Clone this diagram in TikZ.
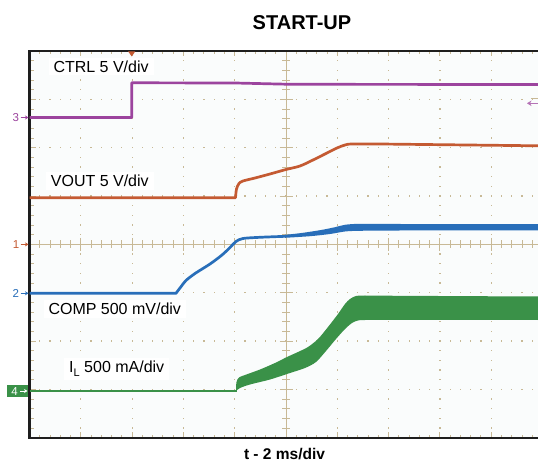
\documentclass[tikz,border=0pt]{standalone}
\usepackage{fontspec}
\setmainfont{Liberation Sans}
\usetikzlibrary{arrows.meta}
\definecolor{purp}{RGB}{156,68,158}
\definecolor{orng}{RGB}{196,90,50}
\definecolor{blu}{RGB}{40,110,185}
\definecolor{grn}{RGB}{58,145,72}
\definecolor{gridc}{RGB}{200,185,150}
\definecolor{framec}{RGB}{30,30,30}
\definecolor{plotbg}{RGB}{250,252,252}
\tikzset{
  framebox/.style={line width=2.3pt, draw=framec},
  tickline/.style={line width=0.9pt, draw=gridc},
  trace/.style={line width=2.7pt, line join=round, line cap=butt},
  lab/.style={fill=white, inner xsep=5pt, inner ysep=3pt, font=\fontsize{16}{18}\selectfont, anchor=base west},
  mk/.style={font=\fontsize{11.5}{12}\selectfont, anchor=base, inner sep=0pt},
  mkarrow/.style={line width=0.9pt, -{Stealth[length=3.5pt,width=4pt]}}
}
\begin{document}
\begin{tikzpicture}[x=1pt,y=-1pt]
\useasboundingbox (0,0) rectangle (538,462);
\fill[white] (0,0) rectangle (538,462);
% plot area
\fill[plotbg] (29.5,51) rectangle (542.5,437.7);
% grid dots
\foreach \i in {1,2,3,4,6,7,8,9}{
  \foreach \k in {1,...,39}{
    \fill[gridc] (29.5+\i*51.3-0.6, 51+\k*9.668-0.6) rectangle ++(1.2,1.2);
  }
}
\foreach \j in {1,2,3,5,6,7}{
  \foreach \k in {1,...,49}{
    \fill[gridc] (29.5+\k*10.26-0.6, 51+\j*48.34-0.6) rectangle ++(1.2,1.2);
  }
}
% centre axes
\draw[tickline] (29.5,244.4) -- (542.5,244.4);
\draw[tickline] (286,51) -- (286,437.7);
\foreach \k in {1,...,49}{
  \pgfmathsetmacro{\len}{ifthenelse(mod(\k,5)==0,6.5,4)}
  \draw[tickline] (29.5+\k*10.26,244.4-\len) -- (29.5+\k*10.26,244.4+\len);
  \draw[tickline] (29.5+\k*10.26,51) -- ++(0,\len-1);
  \draw[tickline] (29.5+\k*10.26,437.7) -- ++(0,-\len+1);
}
\foreach \k in {1,...,39}{
  \pgfmathsetmacro{\len}{ifthenelse(mod(\k,5)==0,6.5,4)}
  \draw[tickline] (286-\len,51+\k*9.668) -- (286+\len,51+\k*9.668);
  \draw[tickline] (29.5,51+\k*9.668) -- ++(\len,0);
}
% labels
\node[lab] (ctrl) at (48.3,72.3) {CTRL 5 V/div};
\node[lab] (vout) at (45.7,186.7) {VOUT 5 V/div};
\node[lab] (comp) at (43.3,314.8) {COMP 500 mV/div};
\node[lab] (il) at (64,372.5) {I\raisebox{-4pt}{\fontsize{11}{12}\selectfont L} 500 mA/div};
% frame
\draw[framebox] (29.5,51) rectangle (542.5,437.7);
% trigger marker
\fill[orng] (128.2,51.5) -- (135.2,51.5) -- (131.7,56.5) -- cycle;
% CTRL trace
\draw[trace,purp] (29.5,117.5) -- (131.7,117.5) -- (131.7,82.8) -- (235,83) -- (290,84.3) -- (538,84.5);
% VOUT trace
\draw[trace,orng] (29.5,197.7) -- (235.5,197.7) -- plot[smooth] coordinates {(235.5,197.7) (236.5,189) (239,183.5) (243,181) (255,178) (270,174) (286,169.5) (300,166) (313,160) (325,154) (337,148) (345,145) (352,144) (380,144)} -- (538,145.8);
% COMP trace
\draw[trace,blu] (29.5,293.3) -- (176,293.3) -- plot[smooth] coordinates {(176,293.3) (180,288) (186,280.5) (195,273.5) (210,264) (222,255) (230,247.5) (236,241.5) (243,238.5) (260,237.3) (286,236.3)};
\fill[blu] plot[smooth] coordinates {(285,234.8) (300,233.2) (320,230.2) (335,227.2) (345,224.8) (360,223.8) (400,224) (538,224.2)}
  -- plot[smooth] coordinates {(538,230.5) (400,230.5) (360,230.8) (345,231.5) (330,234) (310,236.2) (285,237.8)} -- cycle;
% IL trace
\draw[trace,grn] (29.5,391) -- (237,391);
\fill[grn] plot[smooth] coordinates {(236,391) (236.5,382) (239,377.5) (245,375) (260,369.5) (275,363) (287,357) (298,352) (308,347) (318,339) (328,327) (338,314) (345,304) (350,299) (356,296) (365,295.5) (400,295.8) (538,296.5)}
  -- plot[smooth] coordinates {(538,320) (400,319.8) (365,320) (358,320.5) (352,323) (345,329) (336,339) (326,351) (316,362) (305,368) (290,373) (270,379.5) (250,384.5) (240,388) (236,391)} -- cycle;
% channel markers
\node[mk,text=purp] (m3) at (15.8,121.6) {3};
\draw[mkarrow,purp] (20.5,117.5) -- (28.5,117.5);
\node[mk,text=orng] (m1) at (16,248.5) {1};
\draw[mkarrow,orng] (20.5,244.4) -- (28.5,244.4);
\node[mk,text=blu] (m2) at (15.8,297.4) {2};
\draw[mkarrow,blu] (20.5,293.3) -- (28.5,293.3);
\fill[grn] (7.3,385) rectangle (28.3,397);
\node[mk,text=white] (m4) at (14.5,395.1) {4};
\draw[mkarrow,white] (20,391) -- (27.5,391);
% right-hand marker
\draw[line width=1.2pt, purp!75, -{Stealth[length=4.5pt,width=5.5pt]}] (539,103.3) -- (527,103.3);
\draw[line width=1pt,gridc] (531,99) -- (538,99);
% titles
\node[font=\bfseries\fontsize{20}{24}\selectfont, anchor=base] (title) at (302,30) {START-UP};
\node[font=\bfseries\fontsize{15.5}{18}\selectfont, anchor=base] (xlab) at (284.5,459) {t - 2 ms/div};
\end{tikzpicture}
\end{document}
